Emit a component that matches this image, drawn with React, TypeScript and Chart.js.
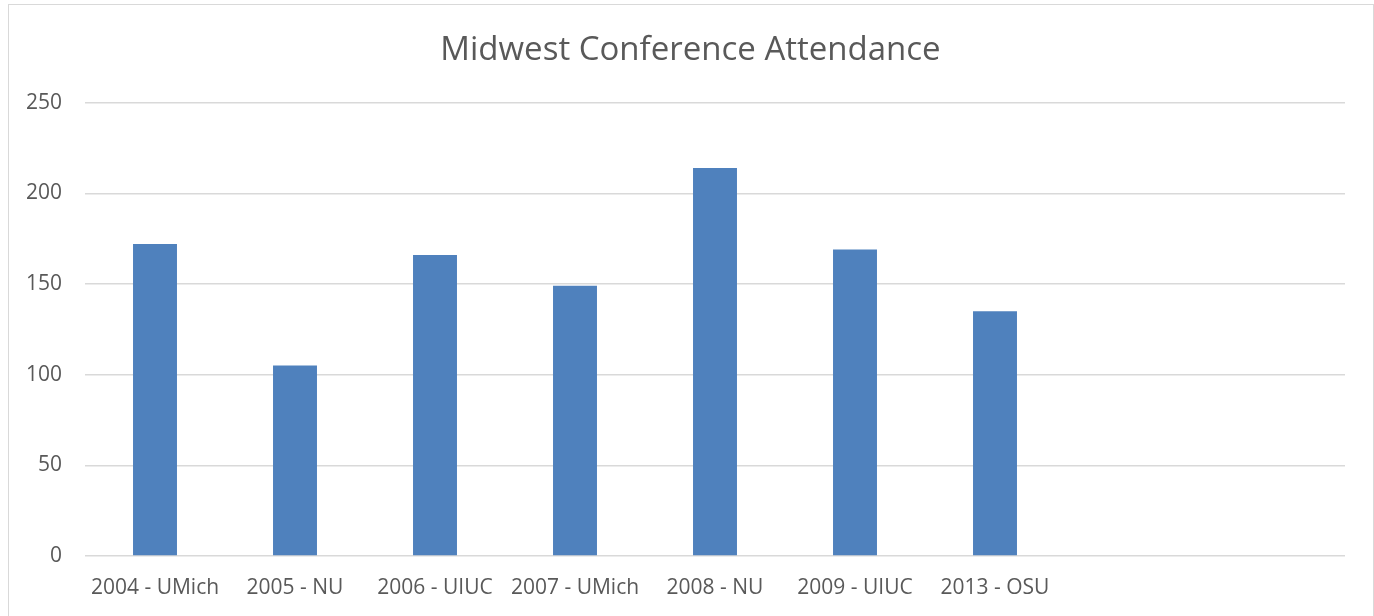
import React, { useEffect, useRef } from "react";
import { Chart, registerables } from "chart.js";

Chart.register(...registerables);

const TITLE = "Midwest Conference Attendance";
const categories = [
  "2004 - UMich",
  "2005 - NU",
  "2006 - UIUC",
  "2007 - UMich",
  "2008 - NU",
  "2009 - UIUC",
  "2013 - OSU",
  "",
  "",
];
const attendance: (number | null)[] = [172, 105, 166, 149, 214, 169, 135, null, null];
const yTicks = [0, 50, 100, 150, 200, 250];

export default function App() {
  const ref = useRef<HTMLCanvasElement>(null);
  useEffect(() => {
    if (!ref.current) return;
    const chart = new Chart(ref.current, {
      type: "bar",
      data: {
        labels: categories,
        datasets: [
          {
            label: "Attendance",
            data: attendance,
            backgroundColor: "#4f81bd",
            borderWidth: 0,
            barPercentage: 0.314,
            categoryPercentage: 1,
            yAxisID: "y",
          },
        ],
      },
      options: {
        responsive: false,
        animation: false,
        layout: { padding: { left: 8, right: 1, top: 0, bottom: 16 } },
        plugins: {
          legend: { display: false },
          tooltip: { enabled: false },
          title: {
            display: true,
            text: TITLE,
            color: "#595959",
            font: { family: "'Open Sans'", size: 33, weight: "normal" },
            padding: { top: 31, bottom: 32 },
          },
        },
        scales: {
          x: {
            afterFit: (s: any) => {
              s.height = 44;
            },
            grid: { display: false, drawTicks: false },
            border: { display: false },
            ticks: {
              color: "#595959",
              font: { family: "'Open Sans'", size: 21 },
              padding: 19,
              maxRotation: 0,
              autoSkip: false,
            },
          },
          y: {
            min: 0,
            max: 250,
            afterFit: (s: any) => {
              s.width = 77;
            },
            afterBuildTicks: (s: any) => {
              s.ticks = yTicks.map((v) => ({ value: v }));
            },
            grid: { color: "#d9d9d9", lineWidth: 1.5, drawTicks: false },
            border: { display: false },
            ticks: {
              color: "#595959",
              font: { family: "'Open Sans'", size: 21 },
              padding: 23,
            },
          },
          yRight: {
            position: "right",
            min: 0,
            max: 250,
            afterFit: (s: any) => {
              s.width = 28;
            },
            grid: { display: false, drawTicks: false },
            border: { display: false },
            ticks: { display: false },
          },
        },
      },
    });
    return () => chart.destroy();
  }, []);
  return (
    <>
      <canvas
        ref={ref}
        width={1374}
        height={616}
        style={{ position: "fixed", left: 0, top: 0, width: 1374, height: 616 }}
      />
      <div
        style={{
          position: "fixed",
          left: 8,
          top: 4,
          width: 1366,
          height: 640,
          borderTop: "1.5px solid #d9d9d9",
          borderLeft: "1.5px solid #d9d9d9",
          borderRight: "1.5px solid #d9d9d9",
          boxSizing: "border-box",
          pointerEvents: "none",
        }}
      />
    </>
  );
}
